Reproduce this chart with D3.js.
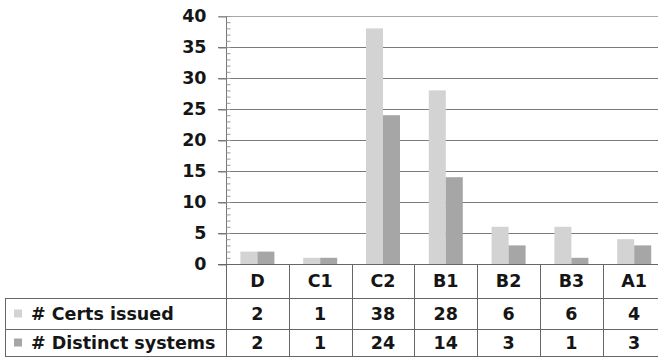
<!DOCTYPE html>
<html>
<head>
<meta charset="utf-8">
<script src="https://cdn.jsdelivr.net/npm/d3@7/dist/d3.min.js"></script>
<style>
  html, body { margin: 0; padding: 0; background: #fff; }
  svg { display: block; }
  text { font-family: "DejaVu Sans", Verdana, sans-serif; font-weight: bold; fill: #151515; }
</style>
</head>
<body>
<svg id="chart" width="658" height="357"></svg>
<script>
// Certificate levels and the two counted series
const categories = ["D", "C1", "C2", "B1", "B2", "B3", "A1"];
const seriesNames = ["# Certs issued", "# Distinct systems"];
const certsIssued = [2, 1, 38, 28, 6, 6, 4];
const distinctSystems = [2, 1, 24, 14, 3, 1, 3];
const yTicks = [0, 5, 10, 15, 20, 25, 30, 35, 40];

const seriesValues = [certsIssued, distinctSystems];
const seriesColors = ["#d3d3d3", "#a6a6a6"];

const svg = d3.select("#chart");

const plotLeft = 226, plotRight = 658;
const colWidth = 62.8;
const yZero = 264, yTop = 16;
const tableLeft = 5;
const rowLines = [298, 329, 356];

const x = d3.scaleBand()
  .domain(categories)
  .range([plotLeft, plotLeft + colWidth * categories.length])
  .paddingInner(0).paddingOuter(0);

// inner scale places the two bars side by side in each column
const barGroup = 34;
const x1 = d3.scaleBand()
  .domain(d3.range(seriesNames.length))
  .range([(colWidth - barGroup) / 2, (colWidth + barGroup) / 2]);

const y = d3.scaleLinear().domain([0, 40]).range([yZero, yTop]);

// horizontal gridlines
svg.append("g")
  .selectAll("line")
  .data(yTicks.filter(t => t > 0))
  .join("line")
  .attr("x1", plotLeft - 8).attr("x2", plotRight)
  .attr("y1", d => y(d) + 0.5).attr("y2", d => y(d) + 0.5)
  .attr("stroke", d => d === 40 ? "#a8a8a8" : "#7a7a7a")
  .attr("stroke-width", 1);

// y axis with major labels
const yAxis = d3.axisLeft(y).tickValues(yTicks).tickSize(8).tickPadding(12);
const gy = svg.append("g")
  .attr("transform", `translate(${plotLeft + 0.5},0)`)
  .call(yAxis);
gy.select(".domain").attr("stroke", "#777").attr("d", `M0,${yTop}V${yZero}`);
gy.selectAll(".tick line").attr("stroke", "#7a7a7a").attr("transform", "translate(0,0.5)");
gy.selectAll(".tick text")
  .attr("font-size", 17.5)
  .attr("font-family", "'DejaVu Sans', Verdana, sans-serif")
  .attr("font-weight", "bold")
  .attr("fill", "#151515");

// minor ticks on the inner side of the axis
const minorAxis = d3.axisRight(y).tickValues(d3.range(0, 41, 1)).tickSize(4).tickFormat("");
const gm = svg.append("g")
  .attr("transform", `translate(${plotLeft + 0.5},0)`)
  .call(minorAxis);
gm.select(".domain").remove();
gm.selectAll(".tick line").attr("stroke", "#999");

// bars
const groups = svg.append("g")
  .selectAll("g")
  .data(categories)
  .join("g")
  .attr("transform", d => `translate(${x(d)},0)`);

groups.selectAll("rect")
  .data((d, i) => seriesValues.map((vals, s) => ({ s, v: vals[i] })))
  .join("rect")
  .attr("x", d => x1(d.s))
  .attr("width", x1.bandwidth())
  .attr("y", d => y(d.v))
  .attr("height", d => yZero - y(d.v))
  .attr("fill", d => seriesColors[d.s]);

// data table below the plot
const table = svg.append("g");
const lineColor = "#666";

// zero line / table top across the columns
table.append("line")
  .attr("x1", plotLeft - 8).attr("x2", plotRight)
  .attr("y1", yZero + 0.5).attr("y2", yZero + 0.5)
  .attr("stroke", lineColor);

rowLines.forEach(ry => {
  table.append("line")
    .attr("x1", tableLeft).attr("x2", plotRight)
    .attr("y1", ry + 0.5).attr("y2", ry + 0.5)
    .attr("stroke", lineColor);
});

// column separators
const colEdges = categories.map(c => x(c)).concat([x(categories[categories.length - 1]) + colWidth]);
colEdges.forEach(cx => {
  table.append("line")
    .attr("x1", Math.round(cx) + 0.5).attr("x2", Math.round(cx) + 0.5)
    .attr("y1", yZero).attr("y2", 357)
    .attr("stroke", lineColor);
});
table.append("line")
  .attr("x1", tableLeft + 0.5).attr("x2", tableLeft + 0.5)
  .attr("y1", rowLines[0]).attr("y2", 357)
  .attr("stroke", lineColor);

// category header
table.selectAll("text.cat")
  .data(categories)
  .join("text")
  .attr("class", "cat")
  .attr("x", d => x(d) + colWidth / 2)
  .attr("y", (yZero + rowLines[0]) / 2 + 6)
  .attr("text-anchor", "middle")
  .attr("font-size", 17.5)
  .text(d => d);

// series rows with legend keys and values
seriesNames.forEach((name, s) => {
  const top = rowLines[s], bottom = rowLines[s + 1];
  const mid = (top + bottom) / 2;
  table.append("rect")
    .attr("x", 14).attr("y", mid - 4)
    .attr("width", 8).attr("height", 8)
    .attr("fill", seriesColors[s]);
  table.append("text")
    .attr("x", 31).attr("y", mid + 6)
    .attr("font-size", 17.5)
    .text(name);
  table.selectAll(`text.v${s}`)
    .data(seriesValues[s])
    .join("text")
    .attr("class", `v${s}`)
    .attr("x", (d, i) => x(categories[i]) + colWidth / 2)
    .attr("y", mid + 6)
    .attr("text-anchor", "middle")
    .attr("font-size", 17.5)
    .text(d => d);
});
</script>
</body>
</html>
